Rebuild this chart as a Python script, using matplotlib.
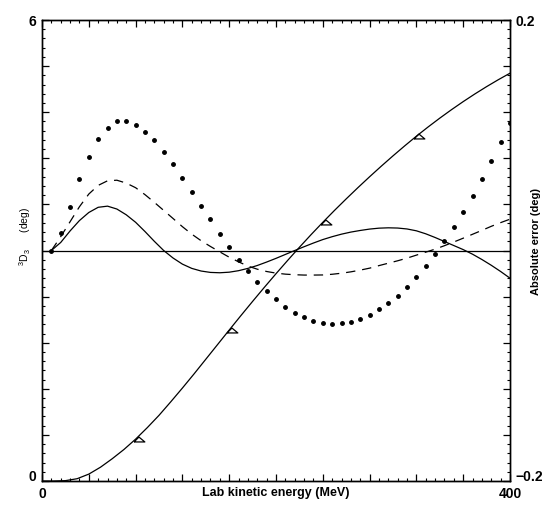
import numpy as np
import matplotlib

matplotlib.use("Agg")
import matplotlib.pyplot as plt
from matplotlib.ticker import FixedLocator, AutoMinorLocator

plt.rcParams["font.family"] = ["Liberation Sans", "DejaVu Sans"]
plt.rcParams["mathtext.fontset"] = "custom"
plt.rcParams["mathtext.rm"] = "Liberation Sans"
plt.rcParams["mathtext.it"] = "Liberation Sans"

# -- 3D3 phase shift (left axis, deg) -------------------------------------
E_PHASE = [0, 10, 20, 30, 40, 50, 60, 70, 80, 90, 100, 110, 120, 130, 140,
           150, 160, 170, 180, 190, 200, 210, 220, 230, 240, 250, 260, 270,
           280, 290, 300, 310, 320, 330, 340, 350, 360, 370, 380, 390, 400]
PHASE = [0.0, 0.0, 0.005, 0.03, 0.09, 0.18, 0.29, 0.41, 0.545, 0.695, 0.855,
         1.03, 1.21, 1.395, 1.585, 1.775, 1.965, 2.153, 2.338, 2.52, 2.698,
         2.872, 3.042, 3.207, 3.367, 3.522, 3.672, 3.818, 3.96, 4.098, 4.232,
         4.362, 4.488, 4.608, 4.723, 4.833, 4.938, 5.038, 5.133, 5.223, 5.308]

# data points marked with open triangles
E_DATA = [80, 160, 240, 320]
PHASE_DATA = [0.545, 1.965, 3.367, 4.488]

# -- absolute errors (right axis, deg), sampled every 8 MeV ----------------
E_ERR = np.arange(8, 401, 8)
ERR_SOLID = [0.0, 0.007, 0.017, 0.026, 0.033, 0.0375, 0.0385, 0.036, 0.031,
             0.0245, 0.0165, 0.008, 0.0, -0.0065, -0.0118, -0.0155, -0.0178,
             -0.019, -0.0193, -0.0188, -0.0175, -0.0155, -0.013, -0.010,
             -0.0068, -0.0034, 0.0, 0.0033, 0.0065, 0.0095, 0.012, 0.0142,
             0.016, 0.0174, 0.0186, 0.0194, 0.0197, 0.0195, 0.0187, 0.0171,
             0.0145, 0.0113, 0.0078, 0.0043, 0.0008, -0.0032, -0.0078,
             -0.0128, -0.0182, -0.024]
ERR_DASHED = [0.0, 0.012, 0.025, 0.038, 0.049, 0.0565, 0.0605, 0.061, 0.0585,
              0.0545, 0.0485, 0.0418, 0.0348, 0.0278, 0.0207, 0.0142, 0.0085,
              0.0035, -0.0012, -0.0058, -0.0098, -0.0135, -0.0162, -0.0182,
              -0.0196, -0.0205, -0.021, -0.0213, -0.0213, -0.0212, -0.0206,
              -0.0197, -0.0185, -0.017, -0.0153, -0.0131, -0.011, -0.0089,
              -0.0066, -0.004, -0.0014, 0.0012, 0.0042, 0.0074, 0.0107,
              0.0141, 0.0175, 0.021, 0.0242, 0.0272]
ERR_DOTTED = [0.0, 0.015, 0.038, 0.062, 0.081, 0.0965, 0.106, 0.112, 0.112,
              0.109, 0.103, 0.0956, 0.0857, 0.075, 0.063, 0.051, 0.0386,
              0.027, 0.0143, 0.0033, -0.008, -0.0175, -0.027, -0.0349,
              -0.0424, -0.0487, -0.054, -0.058, -0.061, -0.0632, -0.0638,
              -0.0632, -0.0622, -0.0594, -0.056, -0.051, -0.0458, -0.0395,
              -0.0314, -0.0233, -0.0134, -0.003, 0.0082, 0.0207, 0.0337,
              0.0476, 0.0623, 0.0777, 0.0942, 0.111]

X_TICKS = [0, 40, 80, 120, 160, 200, 240, 280, 320, 360, 400]
LEFT_TICKS = np.linspace(0, 6, 11)
RIGHT_TICKS = np.linspace(-0.2, 0.2, 11)

# open triangle whose left edge lies on the curve
TRI = [(-0.25, -0.25), (0.25, 0.25), (0.85, -0.25), (-0.25, -0.25)]

fig = plt.figure(figsize=(5.52, 5.08), dpi=100)
ax = fig.add_axes([0.0761, 0.0531, 0.8478, 0.9075])
ax2 = ax.twinx()

ax.plot(E_PHASE, PHASE, color="black", lw=0.9, zorder=3)
ax.plot(E_DATA, PHASE_DATA, linestyle="none", marker=TRI, ms=12,
        mfc="none", mec="black", mew=0.9, zorder=4)

ax2.axhline(0, color="black", lw=0.9)
ax2.plot(E_ERR, ERR_SOLID, color="black", lw=0.9)
ax2.plot(E_ERR, ERR_DASHED, color="black", lw=0.9, dashes=(7.5, 5.5))
ax2.plot(E_ERR, ERR_DOTTED, linestyle="none", marker="o", ms=2.5,
         color="black")

ax.set_xlim(0, 400)
ax.set_ylim(0, 6)
ax2.set_ylim(-0.2, 0.2)

ax.set_xticks(X_TICKS)
ax.set_xticklabels(["0"] + [""] * 9 + ["400"])
ax.xaxis.set_minor_locator(AutoMinorLocator(5))

ax.yaxis.set_major_locator(FixedLocator(LEFT_TICKS))
ax.yaxis.set_minor_locator(AutoMinorLocator(5))
ax.set_yticklabels(["0"] + [""] * 9 + ["6"])
ax2.yaxis.set_major_locator(FixedLocator(RIGHT_TICKS))
ax2.yaxis.set_minor_locator(AutoMinorLocator(5))
ax2.set_yticklabels(["\u22120.2"] + [""] * 9 + ["0.2"])

for a in (ax, ax2):
    a.tick_params(which="major", direction="in", length=5, width=0.9,
                  labelsize=10, pad=4)
    a.tick_params(which="minor", direction="in", length=2.5, width=0.8)
    for s in a.spines.values():
        s.set_linewidth(1.0)
ax.tick_params(which="both", top=True, right=False)
ax2.tick_params(which="both", left=False, right=True)

for lbl in ax.get_xticklabels() + ax.get_yticklabels() + ax2.get_yticklabels():
    lbl.set_fontweight("bold")
ax.get_yticklabels()[0].set_va("baseline")
ax2.get_yticklabels()[0].set_va("baseline")

ax.set_xlabel("Lab kinetic energy (MeV)", fontsize=9, fontweight="bold")
ax.xaxis.set_label_coords(0.5, -0.026)
ax.xaxis.label.set_va("center")
ax.set_ylabel("$^3\\mathrm{D}_3$      (deg)", fontsize=7.5)
ax.yaxis.set_label_coords(-0.036, 0.53)
ax.yaxis.label.set_va("center")
ax2.set_ylabel("Absolute error (deg)", fontsize=8, fontweight="bold")
ax2.yaxis.set_label_coords(1.0556, 0.52)
ax2.yaxis.label.set_va("center")

fig.savefig("out.png", dpi=100, facecolor="white")
